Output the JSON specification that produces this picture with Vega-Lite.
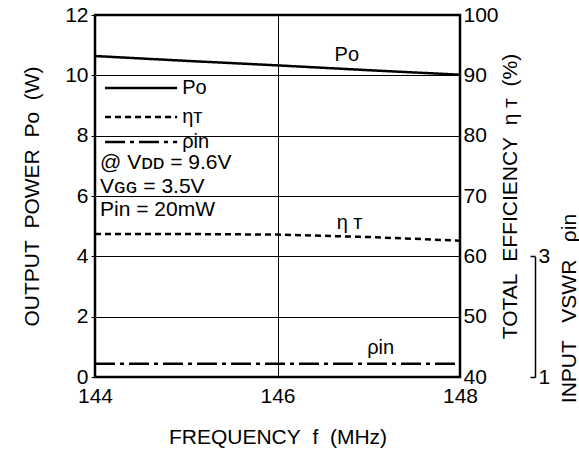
{
  "$schema": "https://vega.github.io/schema/vega-lite/v6.json",
  "width": 365,
  "height": 362,
  "autosize": {"type": "none"},
  "padding": {"left": 95, "top": 15, "right": 119, "bottom": 76},
  "config": {
    "font": "Liberation Sans",
    "view": {"stroke": "black", "strokeWidth": 2.5},
    "axis": {
      "labelColor": "black",
      "titleColor": "black",
      "labelFont": "Liberation Sans",
      "titleFont": "Liberation Sans",
      "labelFontSize": 21,
      "titleFontSize": 21,
      "titleFontWeight": "normal",
      "gridColor": "black",
      "gridOpacity": 1,
      "gridWidth": 1,
      "domain": false,
      "tickColor": "black",
      "labelFlush": false,
      "labelOverlap": false
    }
  },
  "datasets": {
    "curves": [
      {"f": 144, "power": 10.64, "eff": 63.7, "vswr": 1.22},
      {"f": 145, "power": 10.48, "eff": 63.7, "vswr": 1.22},
      {"f": 146, "power": 10.33, "eff": 63.6, "vswr": 1.22},
      {"f": 147, "power": 10.17, "eff": 63.2, "vswr": 1.22},
      {"f": 148, "power": 10.02, "eff": 62.6, "vswr": 1.22}
    ],
    "legend_rows": [
      {"series": "Pᴏ", "f1": 144.11, "f2": 144.9, "p": 9.58},
      {"series": "ηᴛ", "f1": 144.11, "f2": 144.9, "p": 8.62},
      {"series": "ρin", "f1": 144.11, "f2": 144.9, "p": 7.79}
    ],
    "curve_labels": [
      {"f": 146.76, "p": 10.67, "label": "Pᴏ"},
      {"f": 146.79, "p": 5.1, "label": "η ᴛ"},
      {"f": 147.13, "p": 0.96, "label": "ρin"}
    ],
    "conditions": [
      {"f": 144.055, "p": 7.1, "label": "@ Vᴅᴅ = 9.6V"},
      {"f": 144.055, "p": 6.3, "label": "Vɢɢ = 3.5V"},
      {"f": 144.055, "p": 5.52, "label": "Pin = 20mW"}
    ]
  },
  "layer": [
    {
      "layer": [
        {
          "data": {"name": "curves"},
          "mark": {"type": "line", "strokeWidth": 2.5, "color": "black"},
          "encoding": {
            "x": {
              "field": "f", "type": "quantitative",
              "scale": {"domain": [144, 148], "nice": false},
              "axis": {"values": [144, 146, 148], "format": "d", "title": "FREQUENCY\u00a0\u00a0f\u00a0\u00a0(MHz)", "grid": true, "ticks": false, "labelPadding": 8, "titlePadding": 20}
            },
            "y": {
              "field": "power", "type": "quantitative",
              "scale": {"domain": [0, 12], "nice": false},
              "axis": {"orient": "left", "values": [0, 2, 4, 6, 8, 10, 12], "format": "d", "title": "OUTPUT\u00a0\u00a0POWER\u00a0\u00a0Pᴏ\u00a0\u00a0(W)", "grid": true, "tickSize": 4, "labelPadding": 3, "titlePadding": 22}
            },
            "strokeDash": {
              "datum": "Pᴏ", "type": "nominal",
              "scale": {"domain": ["Pᴏ", "ηᴛ", "ρin"], "range": [[1, 0], [6, 4], [20, 5, 4, 5]]},
              "legend": null
            }
          }
        },
        {
          "data": {"name": "legend_rows"},
          "mark": {"type": "rule", "strokeWidth": 2.5, "color": "black"},
          "encoding": {
            "x": {"field": "f1", "type": "quantitative"},
            "x2": {"field": "f2"},
            "y": {"field": "p", "type": "quantitative"},
            "strokeDash": {"field": "series", "type": "nominal", "legend": null}
          }
        },
        {
          "data": {"name": "legend_rows"},
          "mark": {"type": "text", "align": "left", "baseline": "middle", "dx": 5, "fontSize": 20, "color": "black"},
          "encoding": {
            "x": {"field": "f2", "type": "quantitative"},
            "y": {"field": "p", "type": "quantitative"},
            "text": {"field": "series"}
          }
        },
        {
          "data": {"name": "curve_labels"},
          "mark": {"type": "text", "align": "center", "baseline": "middle", "fontSize": 20, "color": "black"},
          "encoding": {
            "x": {"field": "f", "type": "quantitative"},
            "y": {"field": "p", "type": "quantitative"},
            "text": {"field": "label"}
          }
        },
        {
          "data": {"name": "conditions"},
          "mark": {"type": "text", "align": "left", "baseline": "middle", "fontSize": 21, "color": "black"},
          "encoding": {
            "x": {"field": "f", "type": "quantitative"},
            "y": {"field": "p", "type": "quantitative"},
            "text": {"field": "label"}
          }
        }
      ]
    },
    {
      "data": {"name": "curves"},
      "mark": {"type": "line", "strokeWidth": 2.5, "color": "black"},
      "encoding": {
        "x": {"field": "f", "type": "quantitative"},
        "y": {
          "field": "eff", "type": "quantitative",
          "scale": {"domain": [40, 100], "nice": false},
          "axis": {"orient": "right", "values": [40, 50, 60, 70, 80, 90, 100], "format": "d", "grid": false, "ticks": false, "labelPadding": 3, "title": "TOTAL\u00a0\u00a0EFFICIENCY\u00a0\u00a0η ᴛ\u00a0\u00a0(%)", "titleAngle": 270, "titleBaseline": "top", "titlePadding": 1}
        },
        "strokeDash": {"datum": "ηᴛ", "type": "nominal"}
      }
    },
    {
      "data": {"name": "curves"},
      "mark": {"type": "line", "strokeWidth": 2.5, "color": "black"},
      "encoding": {
        "x": {"field": "f", "type": "quantitative"},
        "y": {
          "field": "vswr", "type": "quantitative",
          "scale": {"domain": [1, 3], "range": [362, 241.3], "nice": false},
          "axis": {"orient": "right", "offset": 75, "values": [1, 2, 3], "format": "d", "grid": false, "domain": true, "domainColor": "black", "domainWidth": 1.5, "tickSize": -5, "tickWidth": 1.5, "labelPadding": 8, "title": "INPUT\u00a0\u00a0\u00a0VSWR\u00a0\u00a0\u00a0ρin", "titleAngle": 270, "titleBaseline": "top", "titlePadding": 9, "titleY": 293}
        },
        "strokeDash": {"datum": "ρin", "type": "nominal"}
      }
    }
  ],
  "resolve": {"scale": {"y": "independent"}}
}
